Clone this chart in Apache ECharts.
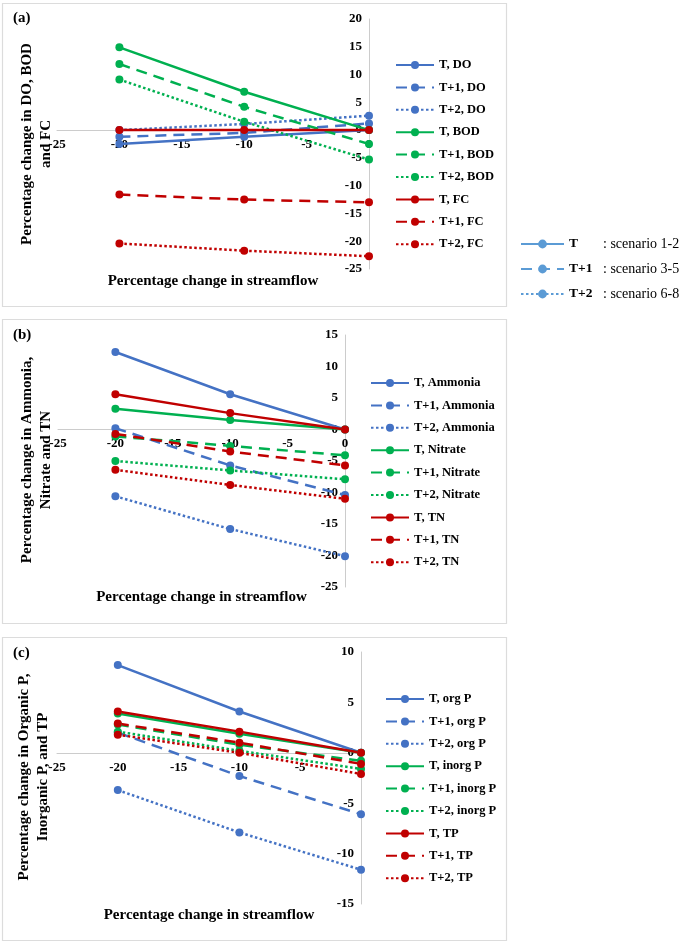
<!DOCTYPE html>
<html>
<head>
<meta charset="utf-8">
<script src="https://cdn.jsdelivr.net/npm/echarts@6/dist/echarts.min.js"></script>
<style>
html,body{margin:0;padding:0;background:#fff;}
#chart{width:685px;height:942px;}
</style>
</head>
<body>
<div id="chart"></div>
<script>
// x categories: percentage change in streamflow
const xVals = [-20, -10, 0];

// Panel (a)
const tDO    = [-2.5, -1.2, 0];
const t1DO   = [-1.2, -0.5, 1.2];
const t2DO   = [0, 1.1, 2.6];
const tBOD   = [14.9, 6.9, 0];
const t1BOD  = [11.9, 4.2, -2.5];
const t2BOD  = [9.1, 1.5, -5.3];
const tFC    = [0, 0, 0];
const t1FC   = [-11.6, -12.5, -13.0];
const t2FC   = [-20.4, -21.7, -22.7];

// Panel (b)
const tAmm   = [12.3, 5.6, 0];
const t1Amm  = [0.2, -5.7, -10.4];
const t2Amm  = [-10.6, -15.8, -20.1];
const tNit   = [3.3, 1.5, 0];
const t1Nit  = [-1.1, -2.6, -4.1];
const t2Nit  = [-5.0, -6.5, -7.9];
const tTN    = [5.6, 2.6, 0];
const t1TN   = [-0.7, -3.5, -5.7];
const t2TN   = [-6.4, -8.8, -11.0];

// Panel (c)
const tOrgP   = [8.7, 4.1, 0];
const t1OrgP  = [2.0, -2.3, -6.1];
const t2OrgP  = [-3.7, -7.9, -11.6];
const tInorgP = [3.9, 1.9, 0];
const t1InorgP= [2.8, 0.8, -0.8];
const t2InorgP= [2.1, 0.2, -1.6];
const tTP     = [4.1, 2.1, 0];
const t1TP    = [2.9, 1.0, -1.1];
const t2TP    = [1.8, 0, -2.1];

// Scenario key
const scenarioNames = ['T', 'T+1', 'T+2'];
const scenarioLabels = ['scenario 1-2', 'scenario 3-5', 'scenario 6-8'];

// Axis ranges / titles
const yRanges = [[-25, 20], [-25, 15], [-15, 10]];
const xTitle = 'Percentage change in streamflow';
const yTitles = ['Percentage change in DO, BOD\nand FC',
                 'Percentage change in Ammonia,\nNitrate and TN',
                 'Percentage change in Organic P,\nInorganic P, and TP'];
const panelLabels = ['(a)', '(b)', '(c)'];

const BLUE = '#4472C4', GREEN = '#00B050', RED = '#C00000', KEYBLUE = '#5B9BD5';
const FONT = '"Liberation Serif", "Times New Roman", serif';
const DASH = [11, 7];
const DOT = [2.5, 2.5];
const styles = ['solid', DASH, DOT];

const panels = [
  [['T, DO', tDO, BLUE, 0], ['T+1, DO', t1DO, BLUE, 1], ['T+2, DO', t2DO, BLUE, 2],
   ['T, BOD', tBOD, GREEN, 0], ['T+1, BOD', t1BOD, GREEN, 1], ['T+2, BOD', t2BOD, GREEN, 2],
   ['T, FC', tFC, RED, 0], ['T+1, FC', t1FC, RED, 1], ['T+2, FC', t2FC, RED, 2]],
  [['T, Ammonia', tAmm, BLUE, 0], ['T+1, Ammonia', t1Amm, BLUE, 1], ['T+2, Ammonia', t2Amm, BLUE, 2],
   ['T, Nitrate', tNit, GREEN, 0], ['T+1, Nitrate', t1Nit, GREEN, 1], ['T+2, Nitrate', t2Nit, GREEN, 2],
   ['T, TN', tTN, RED, 0], ['T+1, TN', t1TN, RED, 1], ['T+2, TN', t2TN, RED, 2]],
  [['T, org P', tOrgP, BLUE, 0], ['T+1, org P', t1OrgP, BLUE, 1], ['T+2, org P', t2OrgP, BLUE, 2],
   ['T, inorg P', tInorgP, GREEN, 0], ['T+1, inorg P', t1InorgP, GREEN, 1], ['T+2, inorg P', t2InorgP, GREEN, 2],
   ['T, TP', tTP, RED, 0], ['T+1, TP', t1TP, RED, 1], ['T+2, TP', t2TP, RED, 2]]
];

// layout
const CH = 942;
const grids = [
  {left: 57, right: 316, top: 19, bottom: 673},
  {left: 58, right: 340, top: 335, bottom: 355},
  {left: 57, right: 324, top: 652, bottom: 38}
];
grids.forEach(g => { g.containLabel = false; g.outerBoundsMode = 'none'; });
const xNameGaps = [144, 160, 155];
const legendPos = [{left: 395, top: 58}, {left: 370, top: 376}, {left: 385, top: 692}];
const boxes = [{y: 3, h: 303}, {y: 319, h: 304}, {y: 637, h: 303}];
const labelPos = [[13, 18], [13, 335], [13, 653]];
const yTitlePos = [[37, 144], [37, 460], [34, 777]];

const xAxes = [], yAxes = [], series = [], legends = [], graphics = [];

for (let p = 0; p < 3; p++) {
  const g = grids[p];
  const h = CH - g.top - g.bottom;
  const [ymin, ymax] = yRanges[p];
  // shift the x axis (line + labels) from the grid bottom up to the y = 0 level
  const zeroOffset = -(h * (0 - ymin) / (ymax - ymin));
  xAxes.push({
    type: 'value', gridIndex: p, min: -25, max: 0, interval: 5,
    position: 'bottom', offset: zeroOffset,
    axisLine: {onZero: false, lineStyle: {color: '#cccccc', width: 1}},
    axisTick: {show: false}, splitLine: {show: false},
    axisLabel: {color: '#000', fontFamily: FONT, fontWeight: 'bold', fontSize: 13, margin: 8,
                showMinLabel: true, showMaxLabel: true},
    name: xTitle, nameLocation: 'middle', nameGap: xNameGaps[p],
    nameTextStyle: {color: '#000', fontFamily: FONT, fontWeight: 'bold', fontSize: 15}
  });
  yAxes.push({
    type: 'value', gridIndex: p, min: ymin, max: ymax, interval: 5,
    position: 'right',
    axisLine: {show: true, onZero: false, lineStyle: {color: '#cccccc', width: 1}},
    axisTick: {show: false}, splitLine: {show: false},
    axisLabel: {inside: true, margin: 7, color: '#000', fontFamily: FONT, fontWeight: 'bold', fontSize: 13}
  });
  const names = [];
  panels[p].forEach(([name, vals, color, st]) => {
    names.push(name);
    series.push({
      name: name, type: 'line', xAxisIndex: p, yAxisIndex: p,
      data: xVals.map((x, i) => [x, vals[i]]),
      symbol: 'circle', symbolSize: 8,
      itemStyle: {color: color},
      lineStyle: {color: color, width: 2.5, type: styles[st]},
      emphasis: {disabled: true}
    });
  });
  legends.push({
    data: names, orient: 'vertical', left: legendPos[p].left, top: legendPos[p].top,
    padding: 0, itemWidth: 38, itemHeight: 10, itemGap: 8.4,
    textStyle: {color: '#000', fontFamily: FONT, fontWeight: 'bold', fontSize: 12.5, lineHeight: 14},
    selectedMode: false
  });
  graphics.push({
    type: 'rect', shape: {x: 2.5, y: boxes[p].y + 0.5, width: 504, height: boxes[p].h},
    style: {fill: 'none', stroke: '#dcdcdc', lineWidth: 1.2}, silent: true, z: -1
  });
  graphics.push({
    type: 'text', x: labelPos[p][0], y: labelPos[p][1],
    style: {text: panelLabels[p], font: 'bold 15px ' + FONT, fill: '#000', textVerticalAlign: 'middle'}
  });
  graphics.push({
    type: 'text', x: yTitlePos[p][0], y: yTitlePos[p][1], rotation: Math.PI / 2,
    style: {text: yTitles[p], font: 'bold 15px ' + FONT, fill: '#000', textAlign: 'center',
            textVerticalAlign: 'middle', lineHeight: 19}
  });
}

// Scenario key (line-style legend)
scenarioNames.forEach((name, i) => {
  series.push({
    name: name, type: 'line', xAxisIndex: 0, yAxisIndex: 0, data: [],
    symbol: 'circle', symbolSize: 8,
    itemStyle: {color: KEYBLUE},
    lineStyle: {color: KEYBLUE, width: 2, type: styles[i]}
  });
});
legends.push({
  data: scenarioNames, orient: 'vertical', left: 520, top: 236, padding: 0,
  itemWidth: 43, itemHeight: 11, itemGap: 9, selectedMode: false,
  formatter: function (name) {
    const i = scenarioNames.indexOf(name);
    return '{a|' + name + '}{b|: ' + scenarioLabels[i] + '}';
  },
  textStyle: {
    color: '#000', fontFamily: FONT, lineHeight: 16,
    rich: {
      a: {fontFamily: FONT, fontWeight: 'bold', fontSize: 13.5, width: 34, color: '#000', lineHeight: 16},
      b: {fontFamily: FONT, fontWeight: 'normal', fontSize: 14, color: '#000', lineHeight: 16}
    }
  }
});

const chart = echarts.init(document.getElementById('chart'), null, {renderer: 'canvas'});
chart.setOption({
  animation: false,
  backgroundColor: '#fff',
  grid: grids,
  xAxis: xAxes,
  yAxis: yAxes,
  legend: legends,
  series: series,
  graphic: graphics
});
</script>
</body>
</html>
